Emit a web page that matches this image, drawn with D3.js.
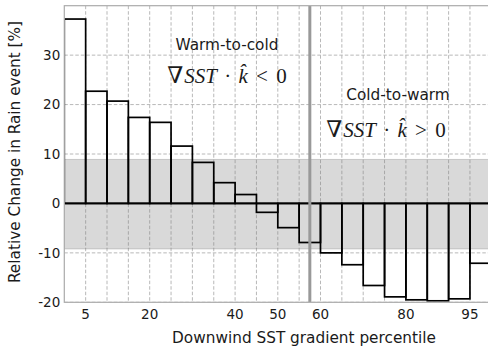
<!DOCTYPE html>
<html>
<head>
<meta charset="utf-8">
<script src="https://cdn.jsdelivr.net/npm/d3@7"></script>
<style>
  html, body { margin: 0; padding: 0; background: #fff; }
  svg { display: block; }
  text { font-family: "DejaVu Sans", sans-serif; fill: #1a1a1a; }
  .math { font-family: "Liberation Serif", "DejaVu Serif", serif; }
</style>
</head>
<body>
<div id="chart"></div>
<script>
// percentile bins (start of each 5-percentile bin)
const binStart = [0, 5, 10, 15, 20, 25, 30, 35, 40, 45, 50, 55, 60, 65, 70, 75, 80, 85, 90, 95];
const binWidth = 5;
// relative change in rain event [%]
const relChange = [37.3, 22.7, 20.7, 17.4, 16.4, 11.6, 8.3, 4.2, 1.8, -1.8, -4.9, -7.9,
                   -10.0, -12.4, -16.6, -18.9, -19.5, -19.7, -19.3, -12.1];

const xTicks = [5, 20, 40, 50, 60, 80, 95];
const yTicks = [-20, -10, 0, 10, 20, 30];
const xGrid = [5, 10, 15, 20, 25, 30, 35, 40, 45, 50, 55, 60, 65, 70, 75, 80, 85, 90, 95];

// shaded insignificance band and the warm/cold divider
const band = [-9.2, 8.9];
const divider = 57.5;

const W = 488, H = 348;
const margin = { left: 64.3, top: 5.7, right: -3.3, bottom: 45.7 };

const svg = d3.select('#chart').append('svg')
  .attr('width', W).attr('height', H);

const x = d3.scaleLinear().domain([0, 100]).range([margin.left, W - margin.right]);
const y = d3.scaleLinear().domain([-20, 40]).range([H - margin.bottom, margin.top]);

svg.append('clipPath').attr('id', 'plot')
  .append('rect')
  .attr('x', x(0)).attr('y', y(40))
  .attr('width', x(100) - x(0)).attr('height', y(-20) - y(40));

const plot = svg.append('g').attr('clip-path', 'url(#plot)');

// grid
plot.selectAll('.hgrid').data(yTicks).enter().append('line')
  .attr('x1', x(0)).attr('x2', x(100))
  .attr('y1', d => y(d)).attr('y2', d => y(d))
  .attr('stroke', '#b0b0b0').attr('stroke-width', 0.9)
  .attr('stroke-dasharray', '3.5,2');

plot.selectAll('.vgrid').data(xGrid).enter().append('line')
  .attr('x1', d => x(d)).attr('x2', d => x(d))
  .attr('y1', y(40)).attr('y2', y(-20))
  .attr('stroke', '#b0b0b0').attr('stroke-width', 0.9)
  .attr('stroke-dasharray', '3.5,2');

// band
plot.append('rect')
  .attr('x', x(0)).attr('width', x(100) - x(0))
  .attr('y', y(band[1])).attr('height', y(band[0]) - y(band[1]))
  .attr('fill', 'rgba(128,128,128,0.3)')
  .attr('stroke', 'rgba(128,128,128,0.35)').attr('stroke-width', 1);

// bars
plot.selectAll('.bar').data(binStart).enter().append('rect')
  .attr('x', d => x(d))
  .attr('width', x(binWidth) - x(0))
  .attr('y', (d, i) => y(Math.max(0, relChange[i])))
  .attr('height', (d, i) => Math.abs(y(relChange[i]) - y(0)))
  .attr('fill', 'none')
  .attr('stroke', '#000').attr('stroke-width', 1.7);

// zero line
plot.append('line')
  .attr('x1', x(0)).attr('x2', x(100))
  .attr('y1', y(0)).attr('y2', y(0))
  .attr('stroke', '#000').attr('stroke-width', 1.7);

// divider
plot.append('line')
  .attr('x1', x(divider)).attr('x2', x(divider))
  .attr('y1', y(40)).attr('y2', y(-20))
  .attr('stroke', '#999').attr('stroke-width', 3);

// spines
svg.append('rect')
  .attr('x', x(0)).attr('y', y(40))
  .attr('width', x(100) - x(0)).attr('height', y(-20) - y(40))
  .attr('fill', 'none').attr('stroke', '#aaa').attr('stroke-width', 1.2);

// tick labels
svg.selectAll('.ytl').data(yTicks).enter().append('text')
  .attr('x', x(0) - 4).attr('y', d => y(d))
  .attr('dy', '0.36em').attr('text-anchor', 'end')
  .style('font-size', '13.5px')
  .text(d => d < 0 ? '-' + Math.abs(d) : d);

svg.selectAll('.xtl').data(xTicks).enter().append('text')
  .attr('x', d => x(d)).attr('y', y(-20) + 17)
  .attr('text-anchor', 'middle')
  .style('font-size', '13.5px')
  .text(d => d);

// axis labels
svg.append('text')
  .attr('x', 304).attr('y', 343)
  .attr('text-anchor', 'middle')
  .style('font-size', '15.3px')
  .text('Downwind SST gradient percentile');

svg.append('text')
  .attr('transform', 'translate(20,152) rotate(-90)')
  .attr('text-anchor', 'middle')
  .style('font-size', '15.3px')
  .text('Relative Change in Rain event [%]');

// annotations
function label(cx, cy, txt) {
  svg.append('text')
    .attr('x', cx).attr('y', cy)
    .attr('text-anchor', 'middle')
    .style('font-size', '15.3px')
    .text(txt);
}
function mathLabel(cx, base, op) {
  const t = svg.append('text').attr('class', 'math')
    .attr('x', cx).attr('y', base)
    .attr('text-anchor', 'middle')
    .style('font-size', '21px');
  t.append('tspan').style('font-size', '23px').text('\u2207');
  t.append('tspan').style('font-style', 'italic').attr('dx', 1).text('SST');
  t.append('tspan').attr('dx', 2).text(' \u00b7 ');
  t.append('tspan').style('font-style', 'italic').attr('dx', 2).text('k\u0302');
  t.append('tspan').attr('dx', 3).text(' ' + op);
  t.append('tspan').attr('dx', 3).text(' 0');
}

label(227, 50, 'Warm-to-cold');
mathLabel(227, 83, '<');
label(398, 100, 'Cold-to-warm');
mathLabel(386, 137, '>');
</script>
</body>
</html>
